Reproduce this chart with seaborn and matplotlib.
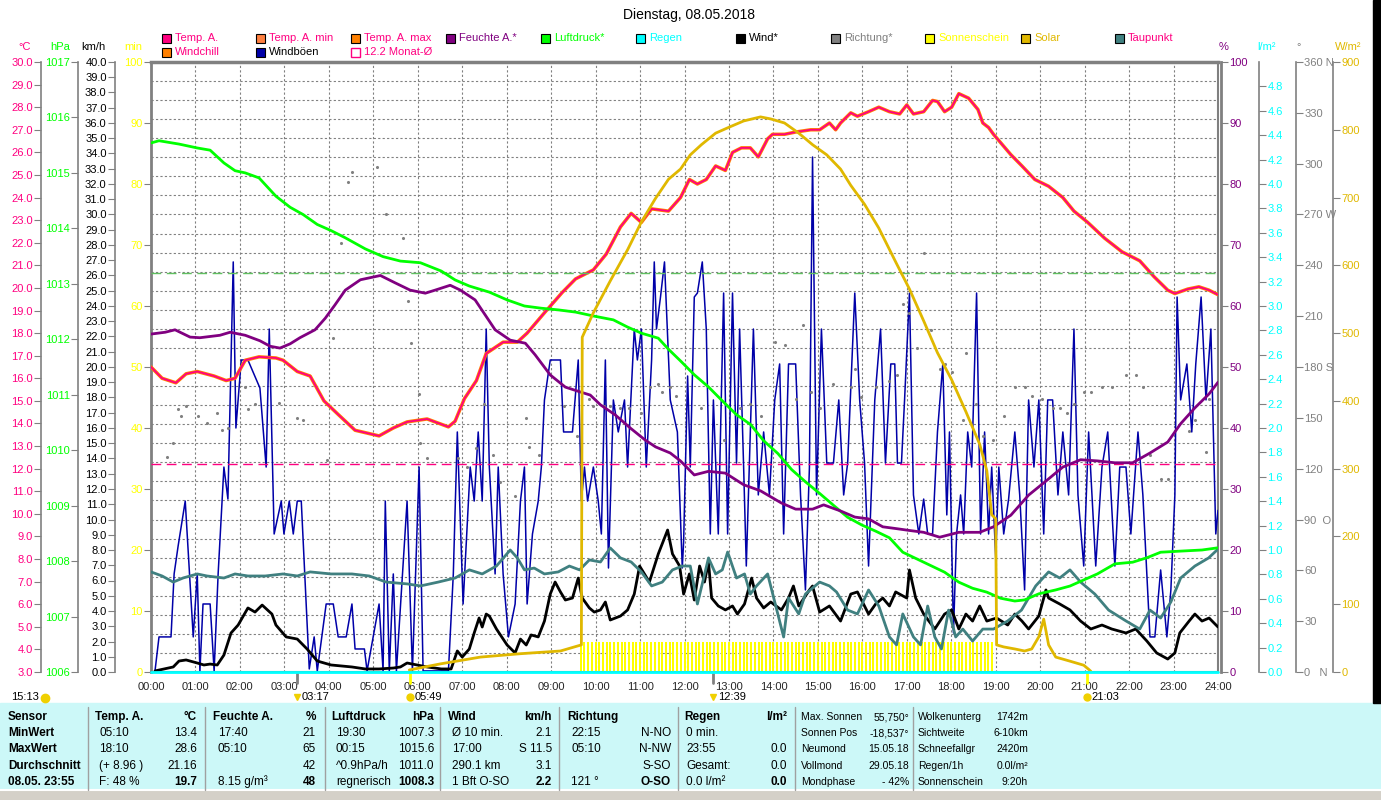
import numpy as np
import matplotlib
matplotlib.use("Agg")
import matplotlib.pyplot as plt
from matplotlib.patches import Rectangle
from matplotlib.lines import Line2D
import seaborn as sns

sns.set_style("white")
plt.rcParams['font.family'] = ['Liberation Sans', 'DejaVu Sans']
plt.rcParams['font.size'] = 8

# === data (hours of day) ===
temp_t = [0.00, 0.25, 0.56, 0.79, 1.04, 1.42, 1.69, 1.89, 2.12, 2.43, 2.81, 2.97, 3.29, 3.58, 3.89,
          4.21, 4.59, 5.13, 5.45, 5.76, 6.21, 6.69, 6.84, 7.05, 7.32, 7.54, 7.92, 8.24, 8.46, 8.85,
          9.25, 9.55, 9.95, 10.24, 10.56, 10.80, 11.03, 11.26, 11.64, 11.91, 12.11, 12.29, 12.49,
          12.70, 12.92, 13.08, 13.28, 13.48, 13.66, 13.87, 13.98, 14.25, 14.50, 14.84, 15.04, 15.26,
          15.40, 15.51, 15.74, 15.89, 16.14, 16.37, 16.61, 16.84, 17.00, 17.15, 17.38, 17.58, 17.69,
          17.85, 18.01, 18.17, 18.39, 18.60, 18.71, 18.84, 18.95, 19.34, 19.59, 19.88, 20.19, 20.51,
          20.76, 21.07, 21.45, 21.84, 22.24, 22.56, 22.87, 23.03, 23.32, 23.57, 23.80, 24.00]
temp = [16.5, 16.0, 15.8, 16.2, 16.3, 16.1, 15.9, 16.0, 16.8, 16.95, 16.9, 16.8, 16.3, 16.1, 15.0,
        14.4, 13.7, 13.45, 13.8, 14.07, 14.2, 13.85, 14.1, 15.1, 15.9, 17.1, 17.6, 17.6, 18.0, 18.9,
        19.8, 20.4, 20.8, 21.5, 22.7, 23.3, 22.9, 23.5, 23.4, 24.0, 24.8, 24.6, 24.8,
        25.4, 25.2, 26.0, 26.2, 26.2, 25.8, 26.6, 26.8, 26.8, 26.9, 27.0, 27.0, 27.3,
        27.0, 27.3, 27.75, 27.6, 27.8, 28.0, 27.8, 27.7, 28.1, 27.7, 27.8, 28.3, 28.25,
        27.8, 28.0, 28.6, 28.4, 27.9, 27.3, 27.1, 26.8, 25.9, 25.4, 24.8, 24.5, 24.0,
        23.4, 22.9, 22.2, 21.6, 21.2, 20.5, 19.9, 19.75, 19.95, 20.05, 19.9, 19.7]

dew_t = [0, 0.25, 0.50, 0.72, 1.04, 1.26, 1.64, 1.89, 2.18, 2.57, 2.97, 3.29, 3.58, 4.05, 4.52, 4.91,
         5.29, 5.76, 6.06, 6.46, 6.84, 7.16, 7.45, 7.77, 8.08, 8.24, 8.40, 8.62, 8.85, 9.16, 9.41,
         9.64, 9.86, 10.11, 10.33, 10.56, 10.80, 11.03, 11.26, 11.50, 11.73, 11.95, 12.13, 12.29,
         12.54, 12.70, 12.85, 12.97, 13.17, 13.35, 13.48, 13.62, 13.87, 14.03, 14.23, 14.34, 14.57,
         14.72, 15.04, 15.26, 15.42, 15.67, 15.89, 16.14, 16.37, 16.61, 16.77, 16.91, 17.15, 17.31,
         17.47, 17.63, 17.78, 17.94, 18.10, 18.26, 18.48, 18.71, 18.95, 19.27, 19.58, 19.90, 20.19,
         20.44, 20.67, 20.91, 21.23, 21.54, 21.93, 22.24, 22.47, 22.71, 22.94, 23.16, 23.48, 23.79, 24.00]
dewpoint = [7.43, 7.25, 6.98, 7.16, 7.34, 7.25, 7.16, 7.34, 7.25, 7.25, 7.34, 7.25, 7.43, 7.34, 7.34, 7.25,
            6.98, 6.90, 6.81, 6.98, 7.16, 7.52, 7.34, 7.69, 8.40, 8.05, 7.52, 7.60, 7.34, 7.43, 7.69,
            7.52, 7.96, 7.87, 8.49, 8.05, 7.87, 7.43, 6.81, 6.98, 7.52, 7.69, 7.69, 6.01,
            8.05, 7.34, 7.52, 8.31, 7.16, 7.34, 6.45, 6.81, 7.34, 6.10, 4.55, 6.28, 5.57,
            6.45, 6.98, 6.81, 6.54, 5.74, 5.57, 6.63, 5.92, 4.55, 4.20, 5.57, 4.55, 4.20,
            5.92, 4.55, 4.02, 5.74, 4.55, 4.90, 4.37, 4.90, 4.90, 5.26, 5.74, 6.81, 7.43,
            7.16, 7.52, 6.98, 6.45, 5.74, 5.26, 4.90, 5.74, 5.39, 6.10, 7.16, 7.69, 8.05, 8.44]

hum_t = [0.00, 0.32, 0.54, 0.88, 1.10, 1.55, 1.78, 2.12, 2.45, 2.68, 2.90, 3.13, 3.35, 3.69, 3.92,
         4.14, 4.37, 4.71, 5.16, 5.27, 5.49, 5.83, 6.17, 6.39, 6.73, 6.96, 7.29, 7.52, 7.74, 8.08,
         8.42, 8.64, 8.98, 9.32, 9.66, 9.88, 10.11, 10.45, 10.78, 11.12, 11.35, 11.68, 11.91, 12.22,
         12.54, 12.92, 13.33, 13.71, 14.18, 14.50, 14.88, 15.13, 15.51, 15.83, 16.14, 16.46, 16.77,
         17.06, 17.38, 17.74, 18.17, 18.64, 18.95, 19.34, 19.74, 20.13, 20.51, 20.91, 21.30, 21.68,
         22.08, 22.47, 22.87, 23.16, 23.48, 23.80, 24.00]
humidity = [55.4, 55.7, 56.1, 54.9, 54.8, 55.2, 55.7, 55.2, 54.3, 53.4, 53.1, 53.8, 54.8, 56.1, 58.0,
            60.2, 62.6, 64.3, 65.0, 64.6, 63.8, 62.6, 62.1, 62.6, 63.4, 62.6, 61.0, 58.5, 56.1, 54.4,
            53.9, 52.0, 48.7, 46.7, 45.9, 45.4, 43.8, 42.1, 40.0, 38.0, 36.9, 35.9, 34.6, 32.3,
            32.9, 32.6, 30.7, 29.7, 27.7, 26.7, 26.7, 27.4, 26.4, 25.4, 25.1, 23.8, 23.5,
            23.2, 22.9, 22.1, 22.9, 22.9, 23.8, 25.7, 29.0, 31.3, 33.6, 34.8, 34.6, 34.3,
            34.3, 35.9, 37.7, 40.7, 43.3, 45.6, 47.5]

press_t = [0.00, 0.18, 0.63, 1.04, 1.33, 1.64, 1.89, 2.12, 2.43, 2.81, 3.13, 3.42, 3.74, 4.05, 4.37,
           4.82, 5.22, 5.61, 6.06, 6.53, 6.84, 7.16, 7.61, 8.01, 8.40, 8.78, 9.16, 9.55, 9.95, 10.40,
           10.72, 11.03, 11.41, 11.64, 11.91, 12.22, 12.54, 12.85, 13.17, 13.49, 13.78, 14.10, 14.41,
           14.72, 15.04, 15.36, 15.67, 15.99, 16.30, 16.61, 16.91, 17.38, 17.85, 18.17, 18.48, 18.80,
           19.11, 19.43, 19.65, 19.97, 20.35, 20.67, 20.98, 21.29, 21.68, 22.08, 22.40, 22.71, 23.16,
           23.64, 24.00]
pressure = [1015.54, 1015.58, 1015.52, 1015.45, 1015.41, 1015.18, 1015.04, 1015.00, 1014.91, 1014.58,
            1014.38, 1014.25, 1014.07, 1013.96, 1013.83, 1013.63, 1013.49, 1013.41, 1013.38, 1013.23,
            1013.07, 1012.96, 1012.85, 1012.71, 1012.60, 1012.56, 1012.53, 1012.49, 1012.42, 1012.35,
            1012.22, 1012.11, 1012.02, 1011.82, 1011.61, 1011.36, 1011.14, 1010.89, 1010.64, 1010.46,
            1010.17, 1009.94, 1009.65, 1009.43, 1009.22, 1009.00, 1008.79, 1008.65, 1008.54, 1008.42,
            1008.16, 1007.98, 1007.80, 1007.62, 1007.51, 1007.44, 1007.33, 1007.28, 1007.30, 1007.41,
            1007.48, 1007.55, 1007.66, 1007.77, 1007.95, 1007.98, 1008.06, 1008.16, 1008.18, 1008.20,
            1008.24]

wind_t = [0.09, 0.50, 0.63, 0.79, 1.04, 1.19, 1.33, 1.49, 1.64, 1.80, 1.96, 2.18, 2.34, 2.50, 2.72,
          2.81, 3.04, 3.29, 3.51, 3.74, 4.05, 4.52, 4.82, 5.13, 5.45, 5.61, 5.76, 5.99, 6.21, 6.53,
          6.75, 6.89, 7.00, 7.16, 7.27, 7.38, 7.45, 7.54, 7.61, 7.77, 8.01, 8.19, 8.31, 8.44, 8.55,
          8.71, 8.85, 8.98, 9.09, 9.21, 9.32, 9.48, 9.61, 9.70, 9.86, 9.97, 10.11, 10.22, 10.33,
          10.56, 10.72, 10.87, 10.99, 11.10, 11.21, 11.41, 11.62, 11.73, 11.89, 11.98, 12.11, 12.22,
          12.34, 12.45, 12.54, 12.61, 12.76, 12.92, 13.08, 13.19, 13.35, 13.51, 13.62, 13.78, 13.94,
          14.18, 14.34, 14.45, 14.57, 14.81, 14.88, 15.04, 15.26, 15.51, 15.74, 15.89, 16.14, 16.30,
          16.46, 16.61, 16.75, 17.00, 17.06, 17.20, 17.38, 17.63, 17.85, 18.01, 18.17, 18.33, 18.48,
          18.64, 18.80, 19.02, 19.27, 19.43, 19.59, 19.74, 19.97, 20.13, 20.19, 20.44, 20.67, 20.91,
          21.14, 21.39, 21.61, 21.93, 22.15, 22.40, 22.62, 22.87, 23.03, 23.14, 23.35, 23.48, 23.64,
          23.80, 24.00]
wind = [0.07, 0.33, 0.72, 0.79, 0.59, 0.46, 0.52, 0.46, 1.11, 2.56, 3.08, 4.20, 3.93, 4.39, 3.80,
        3.08, 2.30, 2.16, 1.51, 0.72, 0.46, 0.33, 0.20, 0.20, 0.26, 0.33, 0.59, 0.46, 0.33, 0.20,
        0.20, 1.38, 0.98, 1.51, 2.56, 3.54, 2.95, 3.80, 3.67, 2.82, 1.77, 1.25, 2.16, 1.77, 2.43,
        2.30, 3.34, 5.11, 5.90, 5.25, 4.72, 4.85, 6.16, 4.85, 4.20, 3.93, 4.07, 4.59, 3.41,
        3.67, 4.07, 5.11, 6.95, 6.43, 5.90, 7.74, 9.31, 7.74, 6.95, 5.11, 6.43, 4.72,
        6.95, 5.90, 7.21, 4.85, 4.33, 4.07, 4.33, 3.80, 4.46, 6.16, 4.85, 4.20, 4.59,
        4.07, 4.85, 5.64, 4.33, 5.38, 5.64, 3.93, 4.33, 3.34, 5.11, 5.25, 3.80, 4.46,
        4.85, 4.33, 5.25, 4.85, 6.69, 4.85, 3.80, 2.82, 3.80, 4.07, 2.82, 3.80, 3.34,
        4.33, 3.34, 3.54, 3.08, 3.80, 3.34, 2.82, 3.67, 5.38, 4.85, 4.46, 4.07, 3.34,
        2.82, 3.08, 2.82, 2.56, 2.82, 2.03, 1.25, 0.85, 1.25, 2.56, 3.34, 3.80, 3.34,
        3.54, 2.95]

gust_t = [0.09, 0.18, 0.45, 0.52, 0.61, 0.77, 0.95, 1.04, 1.10, 1.17, 1.33, 1.42, 1.51, 1.64, 1.73,
          1.85, 1.91, 2.03, 2.18, 2.45, 2.59, 2.66, 2.77, 2.93, 2.99, 3.11, 3.20, 3.29, 3.38, 3.56,
          3.67, 3.74, 3.94, 4.10, 4.21, 4.39, 4.52, 4.59, 4.80, 4.86, 5.13, 5.22, 5.27, 5.36, 5.45,
          5.52, 5.76, 5.88, 6.03, 6.12, 6.69, 6.80, 6.89, 7.02, 7.18, 7.27, 7.36, 7.45, 7.54, 7.61,
          7.74, 7.81, 7.92, 8.04, 8.19, 8.31, 8.40, 8.46, 8.58, 8.71, 8.78, 8.85, 8.98, 9.21, 9.28,
          9.48, 9.61, 9.68, 9.75, 9.82, 9.95, 10.06, 10.13, 10.22, 10.29, 10.40, 10.51, 10.65, 10.72,
          10.87, 10.94, 11.03, 11.14, 11.26, 11.32, 11.37, 11.46, 11.55, 11.68, 11.84, 11.95, 11.98,
          12.07, 12.13, 12.22, 12.29, 12.40, 12.49, 12.58, 12.65, 12.76, 12.88, 12.97, 13.08, 13.17,
          13.24, 13.33, 13.39, 13.55, 13.66, 13.78, 13.91, 14.03, 14.14, 14.23, 14.34, 14.50, 14.61,
          14.72, 14.81, 14.88, 14.97, 15.08, 15.20, 15.35, 15.47, 15.58, 15.67, 15.83, 15.94, 16.05,
          16.14, 16.28, 16.41, 16.52, 16.64, 16.73, 16.79, 16.88, 16.95, 17.06, 17.15, 17.27, 17.38,
          17.47, 17.58, 17.69, 17.81, 17.90, 17.96, 18.05, 18.12, 18.21, 18.28, 18.37, 18.46, 18.57,
          18.66, 18.75, 18.84, 18.91, 19.00, 19.07, 19.18, 19.29, 19.43, 19.54, 19.65, 19.74, 19.86,
          19.97, 20.08, 20.17, 20.28, 20.40, 20.51, 20.64, 20.76, 20.85, 20.98, 21.09, 21.25, 21.39,
          21.52, 21.68, 21.79, 21.93, 22.04, 22.20, 22.31, 22.47, 22.58, 22.71, 22.85, 22.94, 23.03,
          23.08, 23.16, 23.30, 23.41, 23.50, 23.62, 23.73, 23.84, 23.95, 24.00]
gusts = [0.07, 2.30, 2.30, 6.43, 8.26, 11.21, 2.30, 6.43, 0.07, 4.46, 4.46, 0.07, 6.43, 13.44, 11.34,
         26.89, 16.0, 20.46, 20.46, 18.62, 13.44, 22.49, 9.05, 11.21, 9.05, 11.21, 9.05, 11.21, 11.21, 0.20,
         2.30, 0.07, 4.46, 4.46, 2.30, 2.30, 4.46, 1.51, 1.51, 0.07, 4.46, 0.07, 11.21, 0.07, 6.43,
         0.07, 11.21, 0.07, 13.44, 0.07, 0.07, 6.43, 15.74, 4.46, 13.44, 11.21, 15.74, 11.21, 22.49, 13.44,
         6.43, 13.44, 6.43, 2.30, 4.46, 11.21, 13.44, 4.46, 9.05, 11.21, 13.44, 17.84, 20.46, 20.46, 15.74,
         15.74, 20.46, 11.21, 13.44, 11.21, 13.44, 11.21, 9.05, 20.46, 6.82, 17.84, 15.74, 17.84, 13.44,
         22.49, 20.46, 22.49, 13.44, 20.46, 26.89, 22.49, 24.59, 26.89, 17.84, 15.74, 6.82, 8.52,
         19.41, 13.44, 24.59, 24.85, 26.89, 22.49, 9.05, 17.84, 9.05, 24.85, 9.05, 24.85, 13.70,
         22.49, 13.44, 6.95, 22.49, 11.61, 15.74, 11.61, 17.84, 20.20, 9.05, 20.20, 20.20, 11.61,
         5.38, 13.44, 33.77, 11.61, 22.49, 13.70, 13.70, 17.84, 11.61, 13.70, 24.85, 17.84, 13.70,
         6.95, 17.84, 22.49, 13.70, 20.20, 20.20, 13.70, 13.70, 17.84, 24.85, 11.61, 9.05, 11.34,
         9.05, 9.05, 15.74, 20.20, 10.30, 15.74, 2.56, 9.05, 11.61, 9.05, 15.74, 13.44, 24.85,
         9.05, 15.74, 9.05, 13.44, 7.48, 13.44, 9.05, 11.34, 15.74, 11.61, 5.38, 17.84, 13.44,
         17.84, 9.05, 17.84, 17.84, 11.61, 15.74, 11.61, 22.49, 11.61, 6.95, 15.74, 6.95, 13.44,
         15.74, 6.95, 13.44, 13.44, 9.05, 15.74, 11.61, 2.30, 2.30, 6.69, 2.30, 5.38, 11.61,
         24.59, 17.84, 20.20, 15.74, 20.20, 24.59, 17.84, 22.49, 9.05, 10.6]

solar_t = [5.81, 6.51, 7.41, 8.31, 9.21, 9.68, 9.70, 9.95, 10.33, 10.72, 11.03, 11.35, 11.64, 11.91,
           12.13, 12.38, 12.70, 13.01, 13.33, 13.71, 13.94, 14.25, 14.57, 14.88, 15.20, 15.51, 15.74,
           16.05, 16.37, 16.75, 17.06, 17.38, 17.69, 18.01, 18.33, 18.64, 18.80, 18.91, 19.00, 19.02,
           19.18, 19.43, 19.65, 19.81, 19.97, 20.08, 20.19, 20.35, 20.67, 20.98, 21.09, 21.14]
solar = [3, 12, 22, 27, 31, 40, 494, 530, 577, 623, 664, 699, 727, 742,
         763, 778, 795, 804, 813, 819, 816, 810, 795, 778, 763, 742, 718,
         690, 655, 605, 565, 518, 471, 431, 384, 336, 297, 232, 226, 40,
         37, 34, 31, 34, 52, 78, 40, 22, 16, 10, 4, 1]

# sunshine: 5 minutes of sun in every 5-minute slot from 09:40 to 19:00
sun_slot_start = 9 + 40 / 60
sun_minutes = [5] * 112

dir_t = [0.36, 0.50, 0.61, 0.68, 0.79, 1.06, 1.26, 1.49, 1.60, 1.73, 2.12, 2.18, 2.34, 2.88, 3.29,
         3.42, 3.96, 4.10, 4.28, 4.43, 4.52, 5.09, 5.29, 5.67, 5.79, 5.85, 6.03, 6.06, 6.21, 6.91,
         7.11, 7.32, 7.50, 7.70, 7.86, 8.19, 8.44, 8.51, 8.73, 9.28, 9.59, 9.86, 9.95, 10.18, 10.33,
         10.56, 10.76, 11.03, 11.23, 11.41, 11.50, 11.68, 11.80, 12.38, 12.88, 13.24, 13.48, 13.71,
         14.03, 14.25, 14.50, 14.66, 14.84, 15.04, 15.35, 15.74, 15.83, 15.98, 16.30, 16.61, 16.77,
         16.91, 17.06, 17.22, 17.38, 17.54, 17.74, 17.85, 18.01, 18.26, 18.33, 18.55, 18.71, 18.95,
         19.18, 19.43, 19.65, 19.81, 20.04, 20.28, 20.44, 20.60, 20.76, 20.98, 21.14, 21.39, 21.61,
         21.93, 22.15, 22.31, 22.47, 22.71, 22.87, 23.35, 23.48, 23.73, 23.80, 24.00]
direction = [127, 135, 155, 151, 157, 151, 147, 153, 143, 144, 168, 155, 158, 159, 150,
             149, 125, 197, 253, 289, 295, 298, 270, 256, 219, 194, 164, 135, 126, 126,
             121, 132, 158, 128, 112, 104, 150, 133, 128, 157, 139, 161, 157, 157, 157,
             156, 156, 153, 168, 170, 165, 168, 163, 156, 137, 156, 158, 151,
             195, 193, 161, 205, 165, 156, 170, 168, 179, 162, 168, 172, 175,
             217, 212, 191, 247, 202, 179, 182, 177, 149, 188, 158, 139, 137,
             151, 168, 168, 163, 161, 156, 156, 153, 158, 165, 165, 168, 168,
             175, 175, 168, 128, 114, 114, 142, 149, 130, 161, 156]

rain_t = [0, 24]
rain = [0.0, 0.0]

month_avg_temp = 12.2
month_avg_press = 1013.2

sun_events = [("03:17", 3 + 17 / 60), ("05:49", 5 + 49 / 60), ("12:39", 12 + 39 / 60), ("21:03", 21 + 3 / 60)]

# colours
PINK = '#ff0080'; ORANGE = '#ff8000'; CORAL = '#ff8040'; PURPLE = '#800080'
GREEN = '#00ff00'; CYAN = '#00ffff'; NAVY = '#0000a8'; GRAY = '#808080'
YELLOW = '#ffff00'; GOLD = '#e0b800'; TEAL = '#408080'

W, H = 1381, 800
L, R, T, B = 151, 1218, 62, 672

fig = plt.figure(figsize=(W / 100, H / 100), dpi=100)
fig.patch.set_facecolor('white')


def fx(x):
    return x / W


def fy(y):
    return 1 - y / H


def ftext(x, y, s, color='black', ha='left', weight='normal', size=8, **kw):
    fig.text(fx(x), fy(y), s, color=color, ha=ha, va='center', fontweight=weight, fontsize=size, **kw)


ax = fig.add_axes([fx(L), fy(B), (R - L) / W, (B - T) / H])
ax.set_xlim(0, 24)
ax.set_ylim(0, 100)
for s in ax.spines.values():
    s.set_color(GRAY)
    s.set_linewidth(1.5)
ax.spines['top'].set_linewidth(2.5)
ax.spines['left'].set_linewidth(2)
ax.set_xticks(range(25))
ax.set_xticklabels([f"{h:02d}:00" for h in range(25)])
ax.set_yticks(range(0, 101, 10))
ax.set_yticks(np.linspace(0, 100, 33), minor=True)
ax.tick_params(axis='x', length=3, color=GRAY, labelsize=8, pad=4)
ax.tick_params(axis='y', which='major', direction='out', length=5, color=GRAY, labelcolor=YELLOW, labelsize=8, pad=1)
ax.tick_params(axis='y', which='minor', length=0)
ax.grid(True, which='major', axis='x', color=GRAY, ls=(0, (2, 2)), lw=0.8)
ax.grid(True, which='minor', axis='y', color=GRAY, ls=(0, (2, 2)), lw=0.8)
ax.grid(False, which='major', axis='y')

sun_t = [sun_slot_start + i / 12 for i in range(len(sun_minutes))]
ax.vlines(sun_t, 0, sun_minutes, colors=YELLOW, lw=1.3, antialiased=False, zorder=1)

for label, t in sun_events:
    tick_col = YELLOW if label in ("05:49", "21:03") else GRAY
    ax.plot([t, t], [0, -1.8], color=tick_col, lw=2, clip_on=False)


def make_axis(side, px_pos, lo, hi, ticks, labels, color, lw=1.2):
    a = ax.twinx()
    a.patch.set_visible(False)
    a.set_ylim(lo, hi)
    for s in a.spines.values():
        s.set_visible(False)
    sp = a.spines[side]
    sp.set_visible(True)
    sp.set_position(('axes', (px_pos - L) / (R - L)))
    sp.set_color(GRAY)
    sp.set_linewidth(lw)
    a.yaxis.set_ticks_position(side)
    a.yaxis.set_label_position(side)
    a.set_yticks(ticks)
    a.set_yticklabels(labels)
    a.tick_params(axis='y', colors=GRAY, labelcolor=color, direction='out', length=5, pad=1, labelsize=8)
    return a


# wind axis (km/h)
ax_w = make_axis('left', 115, 0, 40, range(41), [f"{v:.1f}" for v in range(41)], 'black')
sns.lineplot(x=gust_t, y=gusts, ax=ax_w, color=NAVY, linewidth=1.1)
sns.lineplot(x=wind_t, y=wind, ax=ax_w, color='black', linewidth=2)

# direction axis (deg)
deg_labels = ['0   N', '30', '60', '90  O', '120', '150', '180 S', '210', '240', '270 W', '300', '330', '360 N']
ax_d = make_axis('right', 1296, 0, 360, range(0, 361, 30), deg_labels, GRAY)
sns.scatterplot(x=dir_t, y=direction, ax=ax_d, color=GRAY, s=5, linewidth=0)

# temperature axis (°C)
ax_t = make_axis('left', 41, 3, 30, range(3, 31), [f"{v:.1f}" for v in range(3, 31)], PINK)
ax_t.axhline(month_avg_temp, color=PINK, ls=(0, (7, 4)), lw=1)
sns.lineplot(x=dew_t, y=dewpoint, ax=ax_t, color=TEAL, linewidth=2)
sns.lineplot(x=temp_t, y=temp, ax=ax_t, color=ORANGE, linewidth=2.5)
sns.lineplot(x=temp_t, y=temp, ax=ax_t, color=PINK, linewidth=1.3)

# pressure axis (hPa)
ax_p = make_axis('left', 78, 1006, 1017, range(1006, 1018), [str(v) for v in range(1006, 1018)], GREEN)
ax_p.axhline(month_avg_press, color='#60c060', ls=(0, (7, 4)), lw=1)
sns.lineplot(x=press_t, y=pressure, ax=ax_p, color=GREEN, linewidth=2)

# humidity axis (%)
ax_h = make_axis('right', 1221, 0, 100, range(0, 101, 10), [str(v) for v in range(0, 101, 10)], PURPLE, lw=2)
sns.lineplot(x=hum_t, y=humidity, ax=ax_h, color=PURPLE, linewidth=2)

# solar axis (W/m²)
ax_s = make_axis('right', 1333, 0, 900, range(0, 901, 100), [str(v) for v in range(0, 901, 100)], GOLD)
sns.lineplot(x=solar_t, y=solar, ax=ax_s, color=GOLD, linewidth=2)

# rain axis (l/m²)
rain_ticks = [round(v * 0.2, 1) for v in range(25)]
ax_r = make_axis('right', 1259, 0, 5, rain_ticks, [f"{v:.1f}" for v in rain_ticks], CYAN)
ax_r.plot(rain_t, rain, color=CYAN, lw=2, clip_on=False)

for a in [ax_w, ax_d, ax_t, ax_p, ax_h, ax_s, ax_r]:
    a.set_xlim(0, 24)
    a.set_xlabel('')
    a.set_ylabel('')

# === title, units, legend ===
ftext(689, 15, "Dienstag, 08.05.2018", ha='center', size=10)
for txt, x, c in [("°C", 25, PINK), ("hPa", 60, GREEN), ("km/h", 93, 'black'), ("min", 133, YELLOW),
                  ("%", 1224, PURPLE), ("l/m²", 1266, CYAN), ("°", 1299, GRAY), ("W/m²", 1348, GOLD)]:
    ftext(x, 47, txt, color=c, ha='center')

legend_row1 = [("Temp. A.", PINK, PINK, 162), ("Temp. A. min", CORAL, PINK, 256), ("Temp. A. max", ORANGE, PINK, 351),
               ("Feuchte A.*", PURPLE, PURPLE, 446), ("Luftdruck*", GREEN, GREEN, 541), ("Regen", CYAN, CYAN, 636),
               ("Wind*", 'black', 'black', 736), ("Richtung*", GRAY, GRAY, 831), ("Sonnenschein", YELLOW, YELLOW, 925),
               ("Solar", GOLD, GOLD, 1021), ("Taupunkt", TEAL, PINK, 1115)]
legend_row2 = [("Windchill", ORANGE, PINK, 162), ("Windböen", NAVY, 'black', 256), ("12.2 Monat-Ø", None, PINK, 351)]
for row, y in [(legend_row1, 38), (legend_row2, 52)]:
    for txt, sq, tc, x in row:
        if sq is None:
            fig.add_artist(Rectangle((fx(x), fy(y + 4.5)), 9 / W, 9 / H, transform=fig.transFigure,
                                     facecolor='white', edgecolor=PINK, lw=1))
        else:
            fig.add_artist(Rectangle((fx(x), fy(y + 4.5)), 9 / W, 9 / H, transform=fig.transFigure,
                                     facecolor=sq, edgecolor='black', lw=0.8))
        ftext(x + 13, y, txt, color=tc)

# sun / moon markers below the time axis
ftext(11, 697, "15:13")
fig.add_artist(Line2D([fx(45)], [fy(698)], marker='o', ms=6, color='#f0d000', transform=fig.transFigure))
for label, t in sun_events:
    x = L + t * (R - L) / 24
    ftext(x + 5, 697, label)
    fig.add_artist(Line2D([fx(x)], [fy(697)], marker='v' if label in ("03:17", "12:39") else 'o', ms=5,
                          color='#f0d000', transform=fig.transFigure))

# right black border
fig.add_artist(Rectangle((fx(1373), fy(703)), 8 / W, 703 / H, transform=fig.transFigure, color='black'))

# === bottom table ===
fig.add_artist(Rectangle((0, fy(790)), 1, 87 / H, transform=fig.transFigure, color='#ccf8f8', zorder=0))
fig.add_artist(Rectangle((0, 0), 1, 10 / H, transform=fig.transFigure, color='#d4d0c8', zorder=0))
fig.add_artist(Line2D([0, 1], [fy(790), fy(790)], color='white', lw=1.5, transform=fig.transFigure))
for xs in [88, 205, 325, 440, 559, 678, 795, 913]:
    fig.add_artist(Line2D([fx(xs), fx(xs)], [fy(707), fy(790)], color='#a0a0a0', lw=1, transform=fig.transFigure))

rows_y = [717, 733, 749, 766, 782]
sensor_rows = ["Sensor", "MinWert", "MaxWert", "Durchschnitt", "08.05. 23:55"]
for s, y in zip(sensor_rows, rows_y):
    ftext(8, y, s, weight='bold', size=8.5)

table_cols = [
    ("Temp. A.", "°C", ["05:10", "18:10", "(+ 8.96 )", "F: 48 %"], ["13.4", "28.6", "21.16", "19.7"], 95, 99, 197),
    ("Feuchte A.", "%", ["17:40", "05:10", "", "8.15 g/m³"], ["21", "65", "42", "48"], 213, 218, 316),
    ("Luftdruck", "hPa", ["19:30", "00:15", "^0.9hPa/h", "regnerisch"], ["1007.3", "1015.6", "1011.0", "1008.3"], 331, 336, 434),
    ("Wind", "km/h", ["Ø 10 min.", "17:00", "290.1 km", "1 Bft O-SO"], ["2.1", "S 11.5", "3.1", "2.2"], 448, 452, 552),
    ("Richtung", "", ["22:15", "05:10", "", "121 °"], ["N-NO", "N-NW", "S-SO", "O-SO"], 567, 571, 671),
    ("Regen", "l/m²", ["0 min.", "23:55", "Gesamt:", "0.0 l/m²"], ["", "0.0", "0.0", "0.0"], 684, 686, 787),
]
for head, unit, lefts, rights, xh, xl, xr in table_cols:
    ftext(xh, rows_y[0], head, weight='bold', size=8.5)
    ftext(xr, rows_y[0], unit, weight='bold', ha='right', size=8.5)
    for i, (lt, rt) in enumerate(zip(lefts, rights)):
        y = rows_y[i + 1]
        ftext(xl, y, lt, size=8.5)
        ftext(xr, y, rt, ha='right', weight='bold' if i == 3 else 'normal', size=8.5)

misc1 = [("Max. Sonnen", "55,750°"), ("Sonnen Pos", "-18,537°"), ("Neumond", "15.05.18"),
         ("Vollmond", "29.05.18"), ("Mondphase", "- 42%")]
misc2 = [("Wolkenunterg", "1742m"), ("Sichtweite", "6-10km"), ("Schneefallgr", "2420m"),
         ("Regen/1h", "0.0l/m²"), ("Sonnenschein", "9:20h")]
for (a, b), (c, d), y in zip(misc1, misc2, rows_y):
    ftext(801, y, a, size=7.5)
    ftext(909, y, b, ha='right', size=7.5)
    ftext(918, y, c, size=7.5)
    ftext(1028, y, d, ha='right', size=7.5)

fig.savefig("out.png", dpi=100)
